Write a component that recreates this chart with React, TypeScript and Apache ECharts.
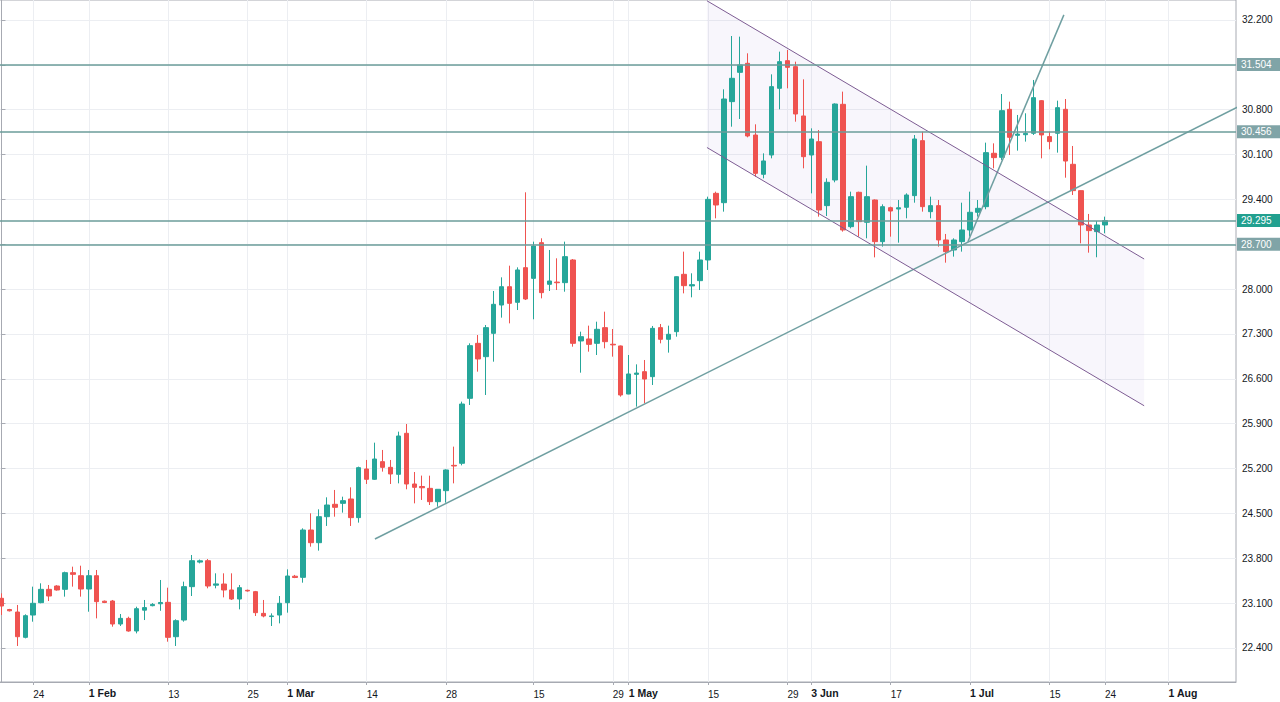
import React, { useEffect, useRef } from 'react';
import * as echarts from 'echarts';

// Daily candles, rows of [open, high, low, close]
const ohlc: [number, number, number, number][] = [
  [23.175, 23.253, 22.915, 23.055],
  [23.0, 23.01, 22.97, 22.98],
  [22.961, 23.071, 22.431, 22.576],
  [22.566, 22.925, 22.55, 22.904],
  [22.914, 23.357, 22.81, 23.097],
  [23.107, 23.409, 23.097, 23.315],
  [23.315, 23.383, 23.133, 23.211],
  [23.367, 23.38, 23.295, 23.305],
  [23.315, 23.591, 23.201, 23.575],
  [23.575, 23.669, 23.357, 23.549],
  [23.528, 23.684, 23.201, 23.32],
  [23.32, 23.617, 22.966, 23.528],
  [23.528, 23.617, 22.862, 23.123],
  [23.13, 23.14, 23.1, 23.11],
  [23.133, 23.149, 22.732, 22.774],
  [22.774, 22.93, 22.743, 22.862],
  [22.862, 22.888, 22.654, 22.665],
  [22.665, 23.044, 22.628, 23.013],
  [22.99, 23.149, 22.836, 23.03],
  [23.06, 23.1, 23.05, 23.08],
  [23.09, 23.461, 22.98, 23.11],
  [23.112, 23.341, 22.498, 22.566],
  [22.576, 22.847, 22.431, 22.826],
  [22.836, 23.435, 22.81, 23.357],
  [23.357, 23.851, 23.211, 23.762],
  [23.74, 23.78, 23.72, 23.76],
  [23.762, 23.788, 23.331, 23.367],
  [23.38, 23.565, 23.331, 23.4],
  [23.398, 23.565, 23.19, 23.305],
  [23.305, 23.565, 23.149, 23.164],
  [23.164, 23.383, 23.003, 23.341],
  [23.3, 23.31, 23.28, 23.29],
  [23.279, 23.29, 22.899, 22.951],
  [22.94, 23.149, 22.878, 22.899],
  [22.89, 22.94, 22.743, 22.9],
  [22.914, 23.211, 22.784, 23.097],
  [23.107, 23.627, 22.951, 23.523],
  [23.52, 23.54, 23.49, 23.5],
  [23.502, 24.267, 23.419, 24.241],
  [24.241, 24.501, 23.981, 24.043],
  [24.043, 24.564, 23.919, 24.449],
  [24.449, 24.751, 24.304, 24.631],
  [24.642, 24.866, 24.449, 24.595],
  [24.657, 24.761, 24.512, 24.699],
  [24.725, 24.907, 24.304, 24.434],
  [24.434, 25.23, 24.356, 25.214],
  [25.193, 25.334, 24.959, 25.032],
  [25.032, 25.604, 25.022, 25.349],
  [25.308, 25.49, 25.152, 25.219],
  [25.219, 25.334, 24.959, 25.115],
  [25.11, 25.776, 24.969, 25.708],
  [25.75, 25.895, 24.876, 24.959],
  [24.959, 25.146, 24.657, 24.907],
  [24.92, 25.09, 24.71, 24.9],
  [24.891, 25.089, 24.631, 24.683],
  [24.683, 24.88, 24.605, 24.876],
  [24.855, 25.188, 24.668, 25.178],
  [25.25, 25.542, 24.969, 25.24],
  [25.282, 26.244, 25.25, 26.207],
  [26.296, 27.154, 26.192, 27.118],
  [27.154, 27.284, 26.712, 26.91],
  [26.946, 27.44, 26.348, 27.399],
  [27.31, 27.971, 26.868, 27.763],
  [27.752, 28.184, 27.555, 28.038],
  [28.038, 28.366, 27.466, 27.778],
  [27.794, 28.34, 27.674, 28.299],
  [28.335, 29.511, 27.83, 27.846],
  [28.168, 28.741, 27.529, 28.673],
  [28.725, 28.793, 27.856, 27.945],
  [28.075, 28.611, 27.971, 28.127],
  [28.11, 28.481, 27.986, 28.1],
  [28.101, 28.741, 27.96, 28.507],
  [28.455, 28.47, 27.102, 27.154],
  [27.191, 27.336, 26.696, 27.258],
  [27.222, 27.43, 27.024, 27.138],
  [27.154, 27.492, 26.972, 27.373],
  [27.399, 27.648, 27.076, 27.18],
  [27.14, 27.378, 26.946, 27.13],
  [27.113, 27.12, 26.322, 26.348],
  [26.363, 26.972, 26.36, 26.676],
  [26.67, 26.826, 26.166, 26.69],
  [26.712, 26.894, 26.218, 26.597],
  [26.634, 27.425, 26.504, 27.388],
  [27.399, 27.456, 27.154, 27.217],
  [27.217, 27.43, 27.009, 27.295],
  [27.336, 28.2, 27.258, 28.194],
  [28.231, 28.585, 27.934, 28.054],
  [28.05, 28.247, 27.872, 28.07],
  [28.132, 28.585, 27.986, 28.455],
  [28.455, 29.443, 28.299, 29.401],
  [29.495, 29.521, 29.105, 29.313],
  [29.349, 31.118, 29.209, 30.967],
  [30.926, 31.95, 30.535, 31.29],
  [31.383, 31.94, 30.655, 31.498],
  [31.524, 31.68, 30.369, 30.39],
  [30.405, 30.572, 29.755, 29.807],
  [29.792, 30.119, 29.729, 30.0],
  [30.093, 31.352, 30.041, 31.16],
  [31.134, 31.706, 30.806, 31.55],
  [31.565, 31.732, 31.134, 31.461],
  [31.472, 31.55, 30.613, 30.733],
  [30.702, 31.274, 29.885, 30.067],
  [30.093, 30.509, 29.495, 30.343],
  [30.301, 30.483, 29.131, 29.235],
  [29.303, 29.729, 29.141, 29.667],
  [29.703, 30.899, 29.667, 30.889],
  [30.884, 31.082, 28.897, 28.923],
  [28.975, 29.521, 28.949, 29.443],
  [29.511, 29.521, 28.819, 29.053],
  [29.043, 29.927, 28.793, 29.443],
  [29.391, 29.4, 28.496, 28.741],
  [28.741, 29.323, 28.663, 29.287],
  [29.271, 29.287, 28.819, 29.219],
  [29.25, 29.391, 28.725, 29.27],
  [29.277, 29.495, 29.105, 29.469],
  [29.459, 30.405, 29.349, 30.343],
  [30.317, 30.457, 29.209, 29.287],
  [29.209, 29.443, 29.105, 29.303],
  [29.303, 29.391, 28.663, 28.767],
  [28.767, 28.861, 28.413, 28.585],
  [28.611, 28.793, 28.507, 28.767],
  [28.741, 29.349, 28.585, 28.923],
  [28.923, 29.521, 28.819, 29.199],
  [29.199, 29.391, 29.131, 29.261],
  [29.287, 30.286, 29.246, 30.13],
  [30.12, 30.275, 29.885, 30.052],
  [30.057, 31.045, 30.016, 30.785],
  [30.806, 30.926, 30.093, 30.369],
  [30.4, 30.718, 30.161, 30.42],
  [30.41, 30.744, 30.302, 30.43],
  [30.432, 31.264, 30.406, 30.988],
  [30.941, 30.95, 30.041, 30.406],
  [30.38, 30.458, 30.182, 30.302],
  [30.432, 30.941, 30.13, 30.832],
  [30.806, 30.967, 29.739, 29.999],
  [29.948, 30.234, 29.469, 29.537],
  [29.537, 29.54, 28.715, 29.001],
  [29.001, 29.173, 28.569, 28.913],
  [28.897, 29.063, 28.497, 29.001],
  [29.001, 29.131, 28.871, 29.069],
];

// number of bar slots on the time scale (incl. empty future slots)
const SLOTS = 156;

// time-axis labels (slot index -> text)
const xTickIndex = [4, 11, 21, 31, 36, 46, 56, 67, 77, 79, 89, 99, 102, 112, 122, 132, 139, 147];
const xTickText = ['24', '1 Feb', '13', '25', '1 Mar', '14', '28', '15', '29', '1 May', '15', '29', '3 Jun', '17', '1 Jul', '15', '24', '1 Aug'];

// price scale
const Y_MIN = 21.869;
const Y_MAX = 32.512;
const yTicks = [22.4, 23.1, 23.8, 24.5, 25.2, 25.9, 26.6, 27.3, 28.0, 28.7, 29.4, 30.1, 30.8, 31.5, 32.2];
const yTicksHiddenLabel = [28.7, 31.5];

// horizontal price levels and their tags
const priceLevels = [31.504, 30.456, 29.07, 28.7];
const priceTags = ['31.504', '30.456', '29.295', '28.700'];
const lastPriceIdx = 2;

// drawings: [slot, price]
const upTrend: [number, number][] = [[47.04, 24.1], [155.7, 30.84]];
const steepTrend: [number, number][] = [[121.73, 28.74], [133.82, 32.28]];
const channelUpper: [number, number][] = [[88.86, 32.5], [143.93, 28.47]];
const channelLower: [number, number][] = [[88.86, 30.21], [143.93, 26.18]];

const FONT = 'Liberation Sans, Arial, sans-serif';
const UP = '#26a69a';
const DOWN = '#ef5350';

export default function App() {
  const ref = useRef<HTMLDivElement>(null);

  useEffect(() => {
    if (!ref.current) return;
    const chart = echarts.init(ref.current, undefined, { renderer: 'svg' });

    const candleData = ohlc.map(([o, h, l, c]) => [o, c, l, h]);
    const fmtY = (v: number) => v.toFixed(3);
    const isHidden = (v: number) => yTicksHiddenLabel.some((h) => Math.abs(h - v) < 1e-6);

    const option: any = {
      animation: false,
      backgroundColor: '#ffffff',
      textStyle: { fontFamily: FONT },
      grid: {
        left: -2.5,
        right: 44,
        top: 0,
        bottom: 20,
        show: true,
        borderColor: '#a7aab2',
        borderWidth: 1,
        backgroundColor: 'transparent',
        outerBoundsMode: 'none',
        containLabel: false,
      },
      xAxis: [
        {
          type: 'category',
          data: Array.from({ length: SLOTS }, (_, i) => String(i)),
          boundaryGap: true,
          show: false,
        },
        {
          type: 'value',
          min: -0.5,
          max: SLOTS - 0.5,
          position: 'bottom',
          axisLine: { show: true, lineStyle: { color: '#a7aab2', width: 1 } },
          axisTick: { show: true, length: 3, customValues: xTickIndex, lineStyle: { color: '#a7aab2' } },
          axisLabel: {
            customValues: xTickIndex,
            align: 'left',
            margin: 5,
            formatter: (v: number) => {
              const i = xTickIndex.indexOf(Math.round(v));
              const t = i >= 0 ? xTickText[i] : '';
              return t.indexOf(' ') >= 0 ? `{b|${t}}` : `{n|${t}}`;
            },
            rich: {
              b: { fontFamily: FONT, fontSize: 10.5, fontWeight: 'bold', color: '#131722' },
              n: { fontFamily: FONT, fontSize: 10, color: '#131722', padding: [2, 0, 0, 0] },
            },
          },
          splitLine: { show: true, lineStyle: { color: '#eceef2', width: 1 } },
        },
      ],
      yAxis: {
        type: 'value',
        position: 'right',
        min: Y_MIN,
        max: Y_MAX,
        scale: true,
        axisLine: { show: true, lineStyle: { color: '#a7aab2', width: 1 } },
        axisTick: { show: true, length: 4, customValues: yTicks, lineStyle: { color: '#a7aab2' } },
        axisLabel: {
          customValues: yTicks.filter((v) => !isHidden(v)),
          formatter: (v: number) => fmtY(v),
          color: '#131722',
          fontSize: 10,
          fontFamily: FONT,
          margin: 6,
        },
        splitLine: { show: true, lineStyle: { color: '#eceef2', width: 1 } },
      },
      series: [
        {
          type: 'custom',
          name: 'channel-fill',
          xAxisIndex: 1,
          yAxisIndex: 0,
          z: 1,
          silent: true,
          data: [channelUpper[0]],
          renderItem: (_params: any, api: any) => {
            const u0 = api.coord(channelUpper[0]);
            const u1 = api.coord(channelUpper[1]);
            const l0 = api.coord(channelLower[0]);
            const l1 = api.coord(channelLower[1]);
            return {
              type: 'polygon',
              shape: { points: [u0, u1, l1, l0] },
              style: { fill: 'rgba(149,117,205,0.065)' },
            };
          },
        },
        {
          type: 'candlestick',
          name: 'price',
          xAxisIndex: 0,
          yAxisIndex: 0,
          z: 2,
          barWidth: 5,
          data: candleData,
          itemStyle: {
            color: UP,
            color0: DOWN,
            borderColor: UP,
            borderColor0: DOWN,
            borderWidth: 1,
          },
          markLine: {
            silent: true,
            symbol: ['none', 'none'],
            precision: 3,
            lineStyle: { color: '#6b9c9a', width: 1.5, type: 'solid' },
            label: {
              show: true,
              position: 'end',
              distance: 1,
              color: '#ffffff',
              fontSize: 10,
              fontFamily: FONT,
              padding: [2, 10, 1, 4],
              backgroundColor: '#80a4a7',
            },
            data: priceLevels.map((v, i) => ({
              yAxis: v,
              label: {
                formatter: priceTags[i],
                backgroundColor: i === lastPriceIdx ? '#22a08f' : '#80a4a7',
              },
            })),
          },
        },
        {
          type: 'line',
          name: 'trend-up',
          xAxisIndex: 1,
          yAxisIndex: 0,
          z: 3,
          silent: true,
          symbol: 'none',
          data: upTrend,
          lineStyle: { color: '#6f9fa1', width: 1.5 },
        },
        {
          type: 'line',
          name: 'trend-steep',
          xAxisIndex: 1,
          yAxisIndex: 0,
          z: 3,
          silent: true,
          symbol: 'none',
          data: steepTrend,
          lineStyle: { color: '#6f9fa1', width: 1.5 },
        },
        {
          type: 'line',
          name: 'channel-upper',
          xAxisIndex: 1,
          yAxisIndex: 0,
          z: 3,
          silent: true,
          symbol: 'none',
          data: channelUpper,
          lineStyle: { color: '#7d5c93', width: 1 },
        },
        {
          type: 'line',
          name: 'channel-lower',
          xAxisIndex: 1,
          yAxisIndex: 0,
          z: 3,
          silent: true,
          symbol: 'none',
          data: channelLower,
          lineStyle: { color: '#7d5c93', width: 1 },
        },
      ],
    };

    chart.setOption(option);
    return () => chart.dispose();
  }, []);

  return (
    <div
      ref={ref}
      style={{ position: 'fixed', left: 0, top: 0, width: 1280, height: 702, background: '#ffffff' }}
    />
  );
}
